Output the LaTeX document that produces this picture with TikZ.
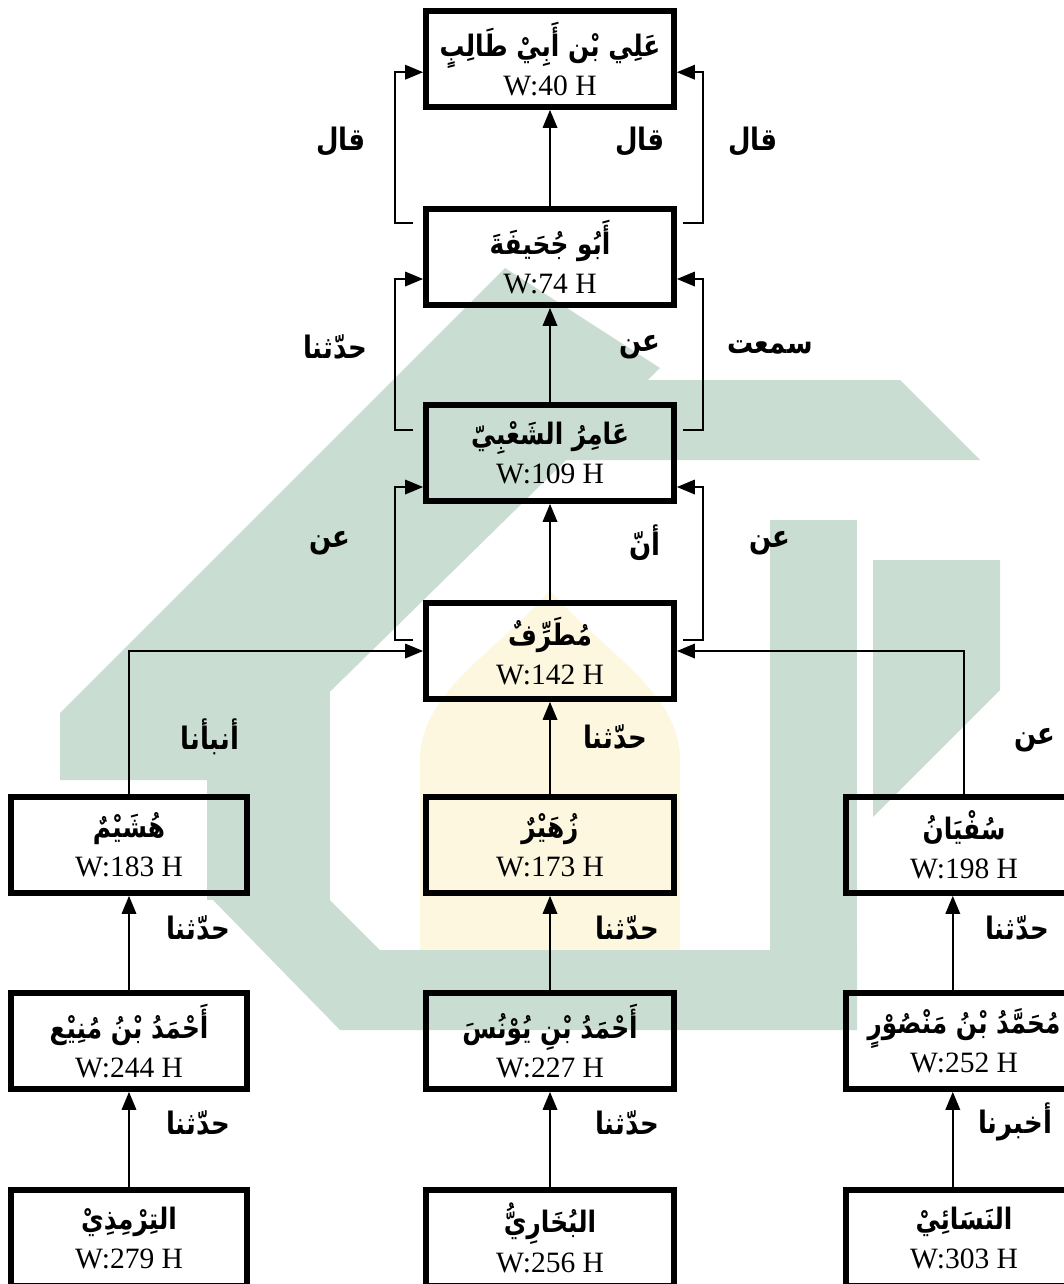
\documentclass[tikz,border=0pt]{standalone}
\usepackage{fontspec}
\setmainfont{Liberation Serif}
\newfontfamily\arabicfont[Script=Arabic, FakeStretch=0.84]{DejaVu Sans}
\TeXXeTstate=1
\usetikzlibrary{arrows.meta, positioning, calc}
\definecolor{wmgreen}{RGB}{202,221,210}
\definecolor{wmyellow}{RGB}{253,247,224}

\newcommand{\arname}[1]{{\arabicfont\bfseries\fontsize{21}{23}\selectfont\beginR #1\endR}}
\newcommand{\arlbl}[1]{{\arabicfont\bfseries\beginR #1\endR}}

\begin{document}
\begin{tikzpicture}[
    x=0.025cm, y=-0.025cm,
    rawi/.style={draw, line width=4pt, rectangle, minimum width=6.2cm, minimum height=2.4cm, align=center, inner sep=2pt, font=\fontsize{21}{25}\selectfont},
    rawis/.style={rawi, minimum width=5.9cm},
    lbl/.style={font=\fontsize{22}{24}\selectfont, inner sep=0pt},
    arr/.style={-{Triangle[length=4.5mm, width=3.6mm]}, line width=1.5pt}
]
\clip (0,0) rectangle (1064,1284);
% background logo
\fill[wmyellow] (420,1000) -- (420,760) .. controls (420,690) and (500,650) .. (550,590) .. controls (600,650) and (680,690) .. (680,760) -- (680,1000) -- cycle;
\fill[wmgreen] (505,268) -- (660,368) -- (240,780) -- (60,780) -- (60,713) -- cycle;
\fill[wmgreen] (207,620) -- (330,620) -- (330,900) -- (207,900) -- cycle;
\fill[wmgreen] (400,380) -- (900,380) -- (980,460) -- (440,460) -- cycle;
\fill[wmgreen] (770,520) -- (857,520) -- (857,1030) -- (770,1030) -- cycle;
\fill[wmgreen] (873,560) -- (1000,560) -- (1000,690) -- (873,817) -- cycle;
\fill[wmgreen] (213,900) -- (330,900) -- (380,950) -- (857,950) -- (857,1030) -- (340,1030) -- cycle;
% chain of narrators
\node[rawi] (ali) at (550,59) {\arname{عَلِي بْن أَبِيْ طَالِبٍ}\\[3pt]W:40 H};
\node[rawi] (abu) at (550,257) {\arname{أَبُو جُحَيفَةَ}\\[3pt]W:74 H};
\node[rawi] (amir) at (550,453) {\arname{عَامِرُ الشَعْبِيّ}\\[3pt]W:109 H};
\node[rawi] (mutarrif) at (550,651) {\arname{مُطَرِّفٌ}\\[3pt]W:142 H};
\node[rawis] (hushaim) at (129,845) {\arname{هُشَيْمٌ}\\[3pt]W:183 H};
\node[rawi] (zuhair) at (550,845) {\arname{زُهَيْرٌ}\\[3pt]W:173 H};
\node[rawis] (sufyan) at (964,845) {\arname{سُفْيَانُ}\\[3pt]W:198 H};
\node[rawis] (mani) at (129,1041) {\arname{أَحْمَدُ بْنُ مُنِيْع}\\[3pt]W:244 H};
\node[rawi] (yunus) at (550,1041) {\arname{أَحْمَدُ بْنِ يُوْنُسَ}\\[3pt]W:227 H};
\node[rawis] (mansur) at (964,1041) {\arname{مُحَمَّدُ بْنُ مَنْصُوْرٍ}\\[3pt]W:252 H};
\node[rawis] (tirmidhi) at (129,1238) {\arname{التِرْمِذِيْ}\\[3pt]W:279 H};
\node[rawi] (bukhari) at (550,1238) {\arname{البُخَارِيُّ}\\[3pt]W:256 H};
\node[rawis] (nasai) at (964,1238) {\arname{النَسَائِيْ}\\[3pt]W:303 H};

% straight links
\draw[arr] (abu) -- (ali);
\draw[arr] (amir) -- (abu);
\draw[arr] (mutarrif) -- (amir);
\draw[arr] (zuhair) -- (mutarrif);
\draw[arr] (hushaim.north) |- (mutarrif.west);
\draw[arr] (sufyan.north) |- (mutarrif.east);
\draw[arr] (mani) -- (hushaim);
\draw[arr] (yunus) -- (zuhair);
\draw[arr] ([xshift=-0.28cm]mansur.north) -- ([xshift=-0.28cm]sufyan.south);
\draw[arr] (tirmidhi) -- (mani);
\draw[arr] (bukhari) -- (yunus);
\draw[arr] ([xshift=-0.28cm]nasai.north) -- ([xshift=-0.28cm]mansur.south);

% side brackets
\draw[arr] ([xshift=-0.25cm, yshift=0.85cm]abu.west) -- ++(-18,0) |- ([yshift=-0.33cm]ali.west);
\draw[arr] ([xshift=0.15cm, yshift=0.85cm]abu.east) -- ++(20,0) |- ([yshift=-0.33cm]ali.east);
\draw[arr] ([xshift=-0.25cm, yshift=0.58cm]amir.west) -- ++(-18,0) |- ([yshift=-0.55cm]abu.west);
\draw[arr] ([xshift=0.15cm, yshift=0.58cm]amir.east) -- ++(20,0) |- ([yshift=-0.55cm]abu.east);
\draw[arr] ([xshift=-0.25cm, yshift=0.28cm]mutarrif.west) -- ++(-18,0) |- ([yshift=-0.85cm]amir.west);
\draw[arr] ([xshift=0.15cm, yshift=0.28cm]mutarrif.east) -- ++(20,0) |- ([yshift=-0.85cm]amir.east);

% transmission words
\node[lbl] (q1) at (341,142) {\arlbl{قال}};
\node[lbl] (q2) at (640,142) {\arlbl{قال}};
\node[lbl] (q3) at (753,142) {\arlbl{قال}};
\node[lbl] (h1) at (335,347) {\arlbl{حدّثنا}};
\node[lbl] (a1) at (640,347) {\arlbl{عن}};
\node[lbl] (s1) at (770,347) {\arlbl{سمعت}};
\node[lbl] (a2) at (330,543) {\arlbl{عن}};
\node[lbl] (n1) at (645,543) {\arlbl{أنّ}};
\node[lbl] (a3) at (770,543) {\arlbl{عن}};
\node[lbl] (b1) at (210,737) {\arlbl{أنبأنا}};
\node[lbl] (h2) at (615,737) {\arlbl{حدّثنا}};
\node[lbl] (a4) at (1035,740) {\arlbl{عن}};
\node[lbl] (h3) at (198,928) {\arlbl{حدّثنا}};
\node[lbl] (h4) at (627,928) {\arlbl{حدّثنا}};
\node[lbl] (h5) at (1017,928) {\arlbl{حدّثنا}};
\node[lbl] (h6) at (198,1123) {\arlbl{حدّثنا}};
\node[lbl] (h7) at (627,1123) {\arlbl{حدّثنا}};
\node[lbl] (k1) at (1015,1122) {\arlbl{أخبرنا}};
\end{tikzpicture}
\end{document}
